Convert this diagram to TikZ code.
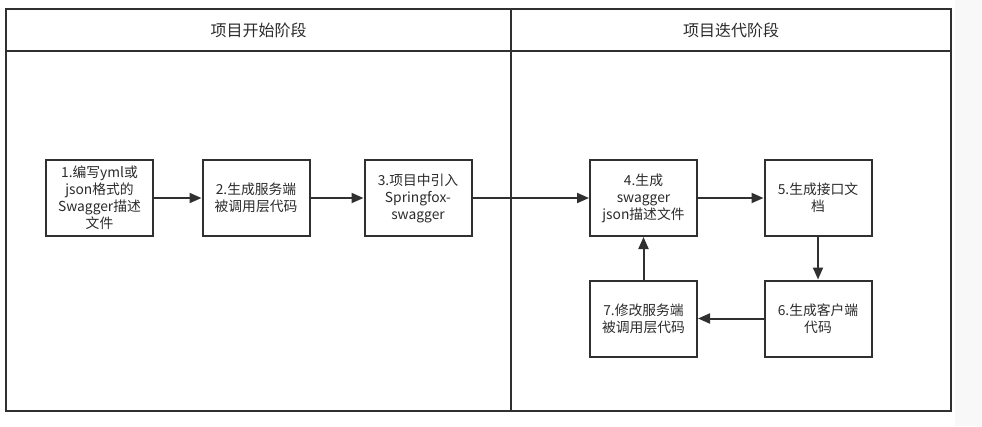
\documentclass[tikz,border=0pt]{standalone}
\usepackage{fontspec}
\setmainfont{Noto Sans CJK SC}
\usepackage{xcolor}
\usetikzlibrary{arrows.meta,positioning}
\definecolor{cLine}{HTML}{303030}
\definecolor{cText}{HTML}{2B2B2B}
\definecolor{cPage}{HTML}{F8F8F8}
\tikzset{
  box/.style={draw=cLine, line width=2pt, minimum width=107pt, minimum height=76pt,
              align=center, text=cText, font=\fontsize{13.8}{17}\selectfont, inner sep=2pt},
  flow/.style={-{Triangle[length=12pt,width=10pt]}, line width=2pt, draw=cLine},
  frame/.style={draw=cLine, line width=1.6pt},
  head/.style={font=\fontsize{16}{18}\selectfont, text=cText},
}
\begin{document}
\begin{tikzpicture}[x=1pt,y=-1pt]
  \useasboundingbox (0,0) rectangle (982,426);
  \fill[cPage] (955,0) rectangle (982,426);
  % lanes
  \draw[frame] (6,9) rectangle (951,411);
  \draw[frame] (6,51) -- (951,51);
  \draw[frame] (511,9) -- (511,411);
  \node[head] (h1) at (258.5,30) {项目开始阶段};
  \node[head] (h2) at (731,30) {项目迭代阶段};
  % steps
  \node[box] (b1) at (99.5,198) {1.编写yml或\\json格式的\\Swagger描述\\文件};
  \node[box, right=47.5pt of b1] (b2) {2.生成服务端\\被调用层代码};
  \node[box, right=53pt of b2] (b3) {3.项目中引入\\Springfox-\\swagger};
  \node[box, right=116.5pt of b3] (b4) {4.生成\\swagger\\json描述文件};
  \node[box, right=65.5pt of b4] (b5) {5.生成接口文\\档};
  \node[box, below=42.5pt of b5] (b6) {6.生成客户端\\代码};
  \node[box, left=65.5pt of b6] (b7) {7.修改服务端\\被调用层代码};
  \draw[flow](b1)--(b2);\draw[flow](b2)--(b3);\draw[flow](b3)--(b4);\draw[flow](b4)--(b5);
  \draw[flow](b5)--(b6);\draw[flow](b6)--(b7);\draw[flow](b7)--(b4);
\end{tikzpicture}
\end{document}
